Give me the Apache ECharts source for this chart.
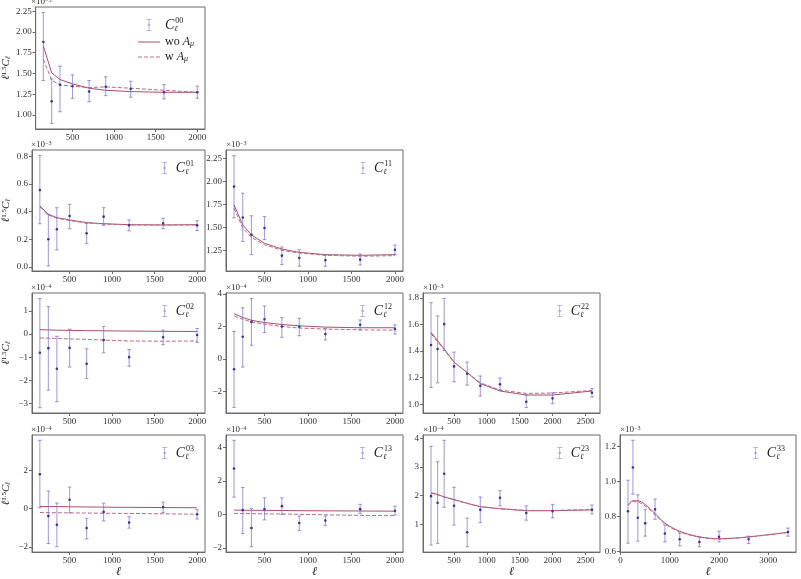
<!DOCTYPE html>
<html>
<head>
<meta charset="utf-8">
<script src="https://cdn.jsdelivr.net/npm/echarts@6/dist/echarts.min.js"></script>
<style>
  html, body { margin: 0; padding: 0; background: #fff; }
  #chart { width: 801px; height: 579px; }
</style>
</head>
<body>
<div id="chart"></div>
<script>
// multipole bin centres
const ell9 = [150, 250, 350, 500, 700, 900, 1200, 1600, 2000];
const ell10 = [150, 250, 350, 500, 700, 900, 1200, 1600, 2000, 2600];
const ell11 = [150, 250, 350, 500, 700, 900, 1200, 1600, 2000, 2600, 3400];

// C00, x1e-3
const c00Val = [1.879, 1.165, 1.365, 1.347, 1.282, 1.339, 1.315, 1.274, 1.274];
const c00Lo  = [1.415, 0.899, 1.040, 1.202, 1.161, 1.234, 1.214, 1.194, 1.202];
const c00Hi  = [2.234, 1.435, 1.589, 1.484, 1.415, 1.460, 1.407, 1.367, 1.347];
const c00Wo  = [1.830, 1.508, 1.427, 1.375, 1.323, 1.298, 1.282, 1.274, 1.274];
const c00W   = [1.670, 1.420, 1.363, 1.347, 1.330, 1.339, 1.323, 1.298, 1.274];

// C01, x1e-3
const c01Val = [0.555, 0.200, 0.272, 0.368, 0.243, 0.363, 0.300, 0.315, 0.300];
const c01Lo  = [0.312, 0.007, 0.123, 0.276, 0.168, 0.300, 0.260, 0.276, 0.262];
const c01Hi  = [0.805, 0.380, 0.428, 0.452, 0.315, 0.428, 0.339, 0.351, 0.334];
const c01Wo  = [0.440, 0.380, 0.356, 0.339, 0.320, 0.312, 0.305, 0.303, 0.305];
const c01W   = [0.435, 0.375, 0.352, 0.335, 0.317, 0.310, 0.303, 0.302, 0.303];

// C11, x1e-3
const c11Val = [1.944, 1.610, 1.423, 1.495, 1.196, 1.171, 1.146, 1.153, 1.260];
const c11Lo  = [1.606, 1.350, 1.207, 1.370, 1.099, 1.081, 1.081, 1.095, 1.207];
const c11Hi  = [2.279, 1.872, 1.628, 1.620, 1.290, 1.261, 1.203, 1.214, 1.311];
const c11Wo  = [1.746, 1.530, 1.420, 1.330, 1.268, 1.232, 1.207, 1.200, 1.207];
const c11W   = [1.710, 1.495, 1.394, 1.315, 1.254, 1.225, 1.200, 1.190, 1.196];

// C02, x1e-4
const c02Val = [-0.81, -0.61, -1.50, -0.60, -1.29, -0.26, -1.00, -0.14, -0.04];
const c02Lo  = [-3.19, -2.43, -2.93, -1.43, -1.93, -0.81, -1.39, -0.46, -0.36];
const c02Hi  = [1.54, 1.19, -0.10, 0.21, -0.64, 0.33, -0.67, 0.17, 0.24];
const c02Wo  = [0.19, 0.18, 0.17, 0.16, 0.15, 0.14, 0.13, 0.12, 0.11];
const c02W   = [-0.17, -0.18, -0.19, -0.21, -0.23, -0.26, -0.30, -0.31, -0.30];

// C12, x1e-4
const c12Val = [-0.65, 1.36, 2.27, 2.43, 1.99, 1.97, 1.52, 2.09, 1.83];
const c12Lo  = [-3.00, -0.51, 0.83, 1.62, 1.32, 1.42, 1.16, 1.78, 1.52];
const c12Hi  = [1.68, 3.14, 3.71, 3.25, 2.54, 2.49, 1.87, 2.39, 2.09];
const c12Wo  = [2.78, 2.54, 2.37, 2.23, 2.11, 2.03, 1.95, 1.91, 1.91];
const c12W   = [2.64, 2.43, 2.27, 2.13, 1.99, 1.89, 1.83, 1.78, 1.76];

// C22, x1e-3
const c22Val = [1.446, 1.416, 1.602, 1.285, 1.230, 1.139, 1.151, 1.020, 1.045, 1.087];
const c22Lo  = [1.127, 1.161, 1.404, 1.169, 1.144, 1.062, 1.107, 0.976, 1.005, 1.055];
const c22Hi  = [1.763, 1.664, 1.795, 1.392, 1.317, 1.213, 1.198, 1.070, 1.087, 1.119];
const c22Wo  = [1.540, 1.478, 1.416, 1.317, 1.238, 1.156, 1.100, 1.070, 1.070, 1.100];
const c22W   = [1.530, 1.470, 1.410, 1.315, 1.240, 1.162, 1.107, 1.082, 1.085, 1.104];

// C03, x1e-4
const c03Val = [1.81, -0.39, -0.85, 0.47, -1.02, -0.17, -0.73, 0.08, -0.29];
const c03Lo  = [0.05, -1.83, -2.00, -0.22, -1.58, -0.64, -1.02, -0.20, -0.54];
const c03Hi  = [3.59, 0.93, 0.30, 1.14, -0.51, 0.29, -0.42, 0.34, -0.05];
const c03Wo  = [0.12, 0.11, 0.11, 0.10, 0.09, 0.08, 0.07, 0.06, 0.05];
const c03W   = [-0.20, -0.21, -0.21, -0.22, -0.23, -0.24, -0.25, -0.27, -0.29];

// C13, x1e-4
const c13Val = [2.74, 0.25, -0.82, 0.31, 0.49, -0.52, -0.37, 0.31, 0.21];
const c13Lo  = [1.03, -1.15, -1.94, -0.33, 0.00, -0.97, -0.66, 0.06, -0.04];
const c13Hi  = [4.43, 1.61, 0.35, 0.99, 0.99, -0.10, -0.10, 0.60, 0.49];
const c13Wo  = [0.25, 0.25, 0.24, 0.24, 0.23, 0.22, 0.21, 0.20, 0.19];
const c13W   = [0.06, 0.05, 0.04, 0.03, 0.02, 0.00, -0.03, -0.06, -0.08];

// C23, x1e-4
const c23Val = [1.98, 1.75, 2.76, 1.64, 0.72, 1.50, 1.92, 1.39, 1.45, 1.50];
const c23Lo  = [0.27, 0.33, 1.59, 0.97, 0.21, 1.05, 1.64, 1.14, 1.22, 1.36];
const c23Hi  = [3.72, 3.18, 3.93, 2.29, 1.21, 1.95, 2.17, 1.64, 1.69, 1.67];
const c23Wo  = [2.10, 2.04, 1.95, 1.86, 1.73, 1.61, 1.54, 1.47, 1.47, 1.50];
const c23W   = [2.08, 2.03, 1.95, 1.85, 1.72, 1.61, 1.54, 1.48, 1.48, 1.51];

// C33, x1e-3
const c33Val = [0.830, 1.080, 0.793, 0.762, 0.841, 0.703, 0.670, 0.655, 0.684, 0.670, 0.712];
const c33Lo  = [0.648, 0.927, 0.660, 0.688, 0.784, 0.655, 0.633, 0.627, 0.655, 0.646, 0.688];
const c33Hi  = [1.007, 1.235, 0.924, 0.839, 0.900, 0.752, 0.706, 0.683, 0.716, 0.688, 0.734];
const c33Wo  = [0.868, 0.890, 0.890, 0.868, 0.817, 0.762, 0.716, 0.684, 0.673, 0.684, 0.710];
const c33W   = [0.862, 0.885, 0.883, 0.860, 0.810, 0.757, 0.712, 0.682, 0.672, 0.683, 0.709];

// tick labels
const xTicks2000 = [500, 1000, 1500, 2000];
const xTicks2500 = [500, 1000, 1500, 2000, 2500];
const xTicks3000 = [0, 1000, 2000, 3000];
const yTicks00 = [1.00, 1.25, 1.50, 1.75, 2.00, 2.25];
const yTicks01 = [0.0, 0.2, 0.4, 0.6, 0.8];
const yTicks11 = [1.25, 1.50, 1.75, 2.00, 2.25];
const yTicks02 = [-3, -2, -1, 0, 1];
const yTicks12 = [-2, 0, 2, 4];
const yTicks22 = [1.0, 1.2, 1.4, 1.6, 1.8];
const yTicks03 = [-2, 0, 2];
const yTicks13 = [-2, 0, 2, 4];
const yTicks23 = [1, 2, 3, 4];
const yTicks33 = [0.6, 0.8, 1.0, 1.2];

const serif = '"Liberation Serif", "DejaVu Serif", serif';
const errColor = 'rgba(110, 96, 200, 0.6)';
const dotColor = '#3f3296';
const woColor = '#a8506e';
const wColor = '#bb6a88';
const frameColor = '#6a6a6a';

const colL = [31, 226, 423, 620];
const colR = [205, 403, 600, 796];
const rowT = [7, 150, 293, 435];
const rowB = [129, 271, 413, 557];

const panels = [
  { r: 0, c: 0, lab: '00', ell: ell9, v: c00Val, lo: c00Lo, hi: c00Hi, wo: c00Wo, w: c00W, x: [57.5, 2092.5], y: [0.832, 2.30], xt: xTicks2000, yt: yTicks00, dec: 2, exp: '3' },
  { r: 1, c: 0, lab: '01', ell: ell9, v: c01Val, lo: c01Lo, hi: c01Hi, wo: c01Wo, w: c01W, x: [57.5, 2092.5], y: [-0.03, 0.845], xt: xTicks2000, yt: yTicks01, dec: 1, exp: '3' },
  { r: 1, c: 1, lab: '11', ell: ell9, v: c11Val, lo: c11Lo, hi: c11Hi, wo: c11Wo, w: c11W, x: [57.5, 2092.5], y: [1.03, 2.34], xt: xTicks2000, yt: yTicks11, dec: 2, exp: '3' },
  { r: 2, c: 0, lab: '02', ell: ell9, v: c02Val, lo: c02Lo, hi: c02Hi, wo: c02Wo, w: c02W, x: [57.5, 2092.5], y: [-3.42, 1.78], xt: xTicks2000, yt: yTicks02, dec: 0, exp: '4' },
  { r: 2, c: 1, lab: '12', ell: ell9, v: c12Val, lo: c12Lo, hi: c12Hi, wo: c12Wo, w: c12W, x: [57.5, 2092.5], y: [-3.34, 4.05], xt: xTicks2000, yt: yTicks12, dec: 0, exp: '4' },
  { r: 2, c: 2, lab: '22', ell: ell10, v: c22Val, lo: c22Lo, hi: c22Hi, wo: c22Wo, w: c22W, x: [27.5, 2722.5], y: [0.935, 1.836], xt: xTicks2500, yt: yTicks22, dec: 1, exp: '3' },
  { r: 3, c: 0, lab: '03', ell: ell9, v: c03Val, lo: c03Lo, hi: c03Hi, wo: c03Wo, w: c03W, x: [57.5, 2092.5], y: [-2.28, 3.87], xt: xTicks2000, yt: yTicks03, dec: 0, exp: '4' },
  { r: 3, c: 1, lab: '13', ell: ell9, v: c13Val, lo: c13Lo, hi: c13Hi, wo: c13Wo, w: c13W, x: [57.5, 2092.5], y: [-2.26, 4.75], xt: xTicks2000, yt: yTicks13, dec: 0, exp: '4' },
  { r: 3, c: 2, lab: '23', ell: ell10, v: c23Val, lo: c23Lo, hi: c23Hi, wo: c23Wo, w: c23W, x: [27.5, 2722.5], y: [0.024, 4.116], xt: xTicks2500, yt: yTicks23, dec: 0, exp: '4' },
  { r: 3, c: 3, lab: '33', ell: ell11, v: c33Val, lo: c33Lo, hi: c33Hi, wo: c33Wo, w: c33W, x: [-12.5, 3562.5], y: [0.597, 1.265], xt: xTicks3000, yt: yTicks33, dec: 1, exp: '3' }
];

const errIcon = 'path://M0,0H5V0.8H0Z M2.1,0H2.9V12H2.1Z M0,11.2H5V12H0Z M1.2,5.2H3.8V6.8H1.2Z';

function fmtTick(dec) {
  return function (v) {
    const s = Math.abs(v).toFixed(dec);
    return (v < -1e-9 ? '\u2212' : '') + s;
  };
}

function renderErr(params, api) {
  const x = api.value(0);
  const top = api.coord([x, api.value(3)]);
  const bot = api.coord([x, api.value(2)]);
  const mid = api.coord([x, api.value(1)]);
  const cap = 1.8;
  const st = { stroke: errColor, lineWidth: 1.1 };
  return {
    type: 'group',
    children: [
      { type: 'line', shape: { x1: top[0], y1: top[1], x2: bot[0], y2: bot[1] }, style: st },
      { type: 'line', shape: { x1: top[0] - cap, y1: top[1], x2: top[0] + cap, y2: top[1] }, style: st },
      { type: 'line', shape: { x1: bot[0] - cap, y1: bot[1], x2: bot[0] + cap, y2: bot[1] }, style: st },
      { type: 'circle', shape: { cx: mid[0], cy: mid[1], r: 1.3 }, style: { fill: dotColor } }
    ]
  };
}

const legendRich = {
  c: { fontFamily: serif, fontStyle: 'italic', fontSize: 14, color: '#222', lineHeight: 20, verticalAlign: 'middle' },
  l: { fontFamily: serif, fontStyle: 'italic', fontSize: 8, color: '#222', width: 1, verticalAlign: 'bottom', padding: [0, 0, 2, 0] },
  s: { fontFamily: serif, fontSize: 8, color: '#222', verticalAlign: 'top', padding: [2, 0, 0, 0] },
  t: { fontFamily: serif, fontSize: 12, color: '#222' },
  a: { fontFamily: serif, fontStyle: 'italic', fontSize: 12, color: '#222' },
  m: { fontFamily: serif, fontStyle: 'italic', fontSize: 8, color: '#222', verticalAlign: 'bottom' }
};

const noSymbol = { color: 'rgba(0,0,0,0)', borderColor: 'rgba(0,0,0,0)', borderWidth: 0 };

const grid = [], xAxis = [], yAxis = [], series = [], legend = [], graphic = [];

panels.forEach((p, i) => {
  const L = colL[p.c], R = colR[p.c], T = rowT[p.r], B = rowB[p.r];
  grid.push({ left: L, top: T, width: R - L, height: B - T, show: true, borderColor: frameColor, borderWidth: 1, backgroundColor: 'transparent' });

  xAxis.push({
    type: 'value', gridIndex: i, min: p.x[0], max: p.x[1],
    name: p.r === 3 ? 'ℓ' : '', nameLocation: 'middle', nameGap: 13,
    nameTextStyle: { fontFamily: serif, fontStyle: 'italic', fontSize: 12, color: '#222' },
    axisLine: { show: true, onZero: false, lineStyle: { color: frameColor } },
    axisTick: { show: true, length: 3, customValues: p.xt, lineStyle: { color: frameColor } },
    axisLabel: { customValues: p.xt, formatter: v => String(v), fontFamily: serif, fontSize: 9, color: '#333', margin: 4 },
    splitLine: { show: false }
  });

  yAxis.push({
    type: 'value', gridIndex: i, min: p.y[0], max: p.y[1],
    name: p.c === 0 ? '{a|ℓ}{p|1.5}{a|C}{b|ℓ}' : '', nameLocation: 'middle', nameGap: 20, nameRotate: 90,
    nameTextStyle: {
      rich: {
        a: { fontFamily: serif, fontStyle: 'italic', fontSize: 11, color: '#222' },
        p: { fontFamily: serif, fontSize: 7, color: '#222', verticalAlign: 'top' },
        b: { fontFamily: serif, fontStyle: 'italic', fontSize: 7, color: '#222', verticalAlign: 'bottom' }
      }
    },
    axisLine: { show: true, onZero: false, lineStyle: { color: frameColor } },
    axisTick: { show: true, length: 3, customValues: p.yt, lineStyle: { color: frameColor } },
    axisLabel: { customValues: p.yt, formatter: fmtTick(p.dec), fontFamily: serif, fontSize: 9, color: '#333', margin: 4 },
    splitLine: { show: false }
  });

  const errName = 'C' + p.lab;
  series.push({
    name: errName, type: 'custom', xAxisIndex: i, yAxisIndex: i,
    renderItem: renderErr, clip: true, z: 3,
    itemStyle: { color: errColor },
    encode: { x: 0, y: [1, 2, 3] },
    data: p.ell.map((x, k) => [x, p.v[k], p.lo[k], p.hi[k]])
  });
  series.push({
    name: 'wo', type: 'line', xAxisIndex: i, yAxisIndex: i, symbol: 'none', z: 2,
    smooth: p.lab === '33' ? 0.3 : false,
    lineStyle: { color: woColor, width: 1 }, itemStyle: { color: woColor },
    data: p.ell.map((x, k) => [x, p.wo[k]])
  });
  series.push({
    name: 'w', type: 'line', xAxisIndex: i, yAxisIndex: i, symbol: 'none', z: 2,
    smooth: p.lab === '33' ? 0.3 : false,
    lineStyle: { color: wColor, width: 1, type: [4, 2] }, itemStyle: { color: wColor },
    data: p.ell.map((x, k) => [x, p.w[k]])
  });

  const legData = [{ name: errName, icon: errIcon, itemStyle: { color: errColor } }];
  if (i === 0) {
    legData.push({ name: 'wo', itemStyle: noSymbol, lineStyle: { color: woColor, width: 1 } });
    legData.push({ name: 'w', itemStyle: noSymbol, lineStyle: { color: wColor, width: 1, type: [4, 2] } });
  }
  legend.push({
    data: legData, orient: 'vertical', selectedMode: false,
    right: 801 - R + 6, top: T + 5,
    itemWidth: i === 0 ? 22 : 12, itemHeight: 12, itemGap: 3,
    formatter: function (name) {
      if (name === 'wo') return '{t|wo }{a|A}{m|μ}';
      if (name === 'w') return '{t|w }{a|A}{m|μ}';
      return '{c|C}{l|ℓ}{s|' + name.slice(1) + '}';
    },
    textStyle: { rich: legendRich, padding: [0, 0, 0, 0] }
  });

  graphic.push({
    type: 'text', left: L, top: T - 10,
    style: {
      text: '{x|×10}{e|−' + p.exp + '}',
      rich: {
        x: { fontFamily: serif, fontSize: 9, fill: '#333', color: '#333' },
        e: { fontFamily: serif, fontSize: 6, fill: '#333', color: '#333', verticalAlign: 'top' }
      }
    }
  });
});

const chart = echarts.init(document.getElementById('chart'), null, { renderer: 'canvas' });
chart.setOption({
  backgroundColor: '#fff',
  animation: false,
  grid: grid,
  xAxis: xAxis,
  yAxis: yAxis,
  legend: legend,
  graphic: graphic,
  series: series
});
window.onresize = chart.resize;
</script>
</body>
</html>
